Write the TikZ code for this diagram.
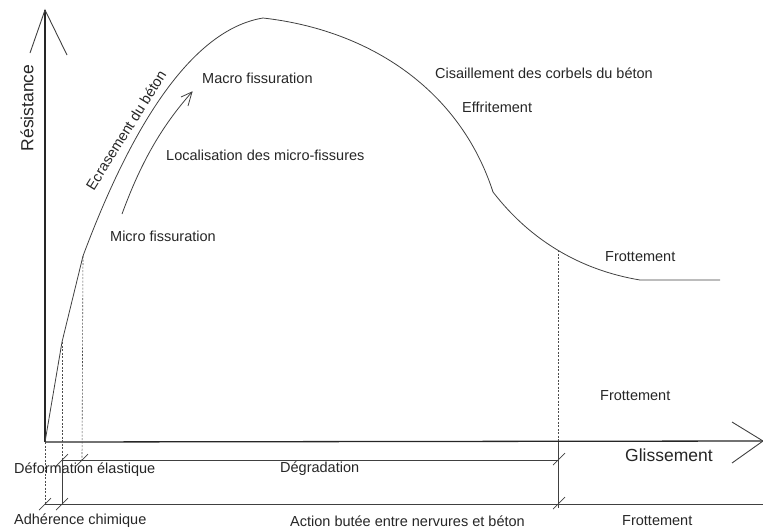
\documentclass[tikz,border=0pt]{standalone}
\usepackage{fontspec}
\setmainfont{Liberation Sans}
\begin{document}
\begin{tikzpicture}[x=1pt,y=-1pt,
  lbl/.style={inner sep=0pt,font=\fontsize{14.5}{17}\selectfont,text=black!85},
  big/.style={inner sep=0pt,font=\fontsize{17.5}{20}\selectfont,text=black!85},
  axis/.style={line width=1.3pt,black!85},
  crv/.style={line width=0.8pt,black!75},
  guide/.style={line width=0.6pt,black!70,dash pattern=on 2pt off 1.5pt},
  bar/.style={line width=1pt,black!75},
  tick/.style={line width=0.7pt,black!75}]
\useasboundingbox (0,0) rectangle (763,531);
% axes
\coordinate (O) at (45,442);
\coordinate (Ytop) at (45,10);
\coordinate (Xend) at (763,441);
\draw[axis] (O) -- (Ytop);
\draw[crv,line width=0.9pt] (30,53) -- (Ytop) -- (67,55);
\draw[axis] (O) -- (Xend);
\draw[crv,line width=0.9pt] (732,422) -- (Xend) -- (732,463);
% curve
\coordinate (P1) at (62,342);
\coordinate (P2) at (83,256);
\coordinate (Pk) at (263,18);
\coordinate (P3) at (493,192);
\coordinate (P4) at (558,250);
\coordinate (P5) at (640,280);
\coordinate (P6) at (720,280);
\draw[crv] (O) -- (P1) -- (P2) .. controls (130,130) and (190,30) .. (Pk)
  .. controls (370,30) and (460,90) .. (P3)
  .. controls (530,240) and (580,270) .. (P5) -- (P6);
% arrow along curve
\coordinate (A1) at (122,214);
\coordinate (A2) at (192,92);
\draw[crv] (A1) .. controls (140,165) and (160,128) .. (A2);
\draw[crv] (181,97) -- (A2) -- (188,106);
% guide lines
\draw[guide] (P1) -- (62,460);
\draw[guide] (P2) -- (82,460);
\draw[guide] (O) -- (45,504);
\draw[guide] (P4) -- (558,442);
\draw[bar] (62,460) -- (62,504);
\draw[bar] (558,442) -- (558,508);
% horizontal bars
\draw[bar] (62,460) -- (558,460);
\draw[bar] (45,504) -- (763,504);
% ticks
\foreach \p in {(62,460),(82,460),(45,504),(62,504),(559,459),(559,503)}
  \draw[tick] \p ++(-6,6) -- ++(12,-12);
% labels
\node[big,rotate=90] (res) at (27,108) {Résistance};
\node[big] (gl) at (669,455) {Glissement};
\node[lbl,rotate=58] (ecr) at (126,130) {Ecrasement du béton};
\node[lbl,anchor=west] (mac) at (202,78) {Macro fissuration};
\node[lbl,anchor=west] (loc) at (166,155) {Localisation des micro-fissures};
\node[lbl,anchor=west] (mic) at (110,236) {Micro fissuration};
\node[lbl,anchor=west] (cis) at (435,73) {Cisaillement des corbels du béton};
\node[lbl,anchor=west] (eff) at (462,107) {Effritement};
\node[lbl,anchor=west] (fr1) at (605,257) {Frottement};
\node[lbl,anchor=west] (fr2) at (600,396) {Frottement};
\node[lbl,anchor=west] (def) at (14,470) {Déformation élastique};
\node[lbl,anchor=west] (deg) at (280,469) {Dégradation};
\node[lbl,anchor=west] (adh) at (14,521) {Adhérence chimique};
\node[lbl,anchor=west] (act) at (290,521) {Action butée entre nervures et béton};
\node[lbl,anchor=west] (fr3) at (622,521) {Frottement};
\end{tikzpicture}
\end{document}
